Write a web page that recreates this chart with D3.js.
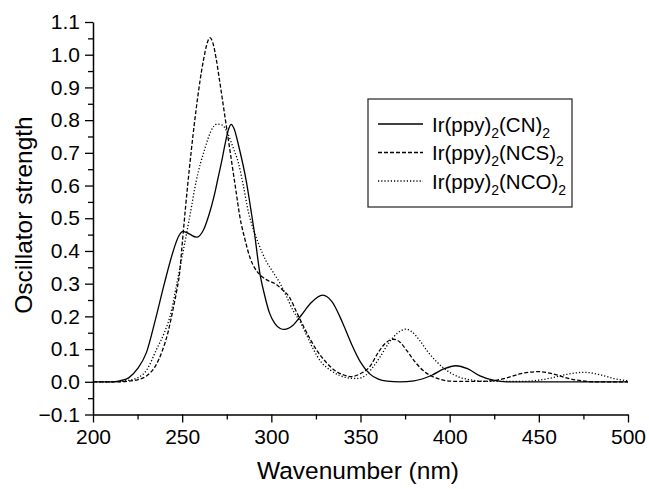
<!DOCTYPE html>
<html>
<head>
<meta charset="utf-8">
<script src="https://cdn.jsdelivr.net/npm/d3@7"></script>
<style>
  html, body { margin: 0; padding: 0; background: #fff; }
  svg { display: block; }
  text { font-family: Arial, "Liberation Sans", sans-serif; fill: #000; }
</style>
</head>
<body>
<svg id="chart" width="649" height="489"></svg>
<script>
// ---- data ----
const xTicks = [200, 250, 300, 350, 400, 450, 500];
const xMinorTicks = [225, 275, 325, 375, 425, 475];
const yTicks = [-0.1, 0.0, 0.1, 0.2, 0.3, 0.4, 0.5, 0.6, 0.7, 0.8, 0.9, 1.0, 1.1];
const yMinorTicks = [-0.05, 0.05, 0.15, 0.25, 0.35, 0.45, 0.55, 0.65, 0.75, 0.85, 0.95, 1.05];

const seriesNames = ["CN", "NCS", "NCO"];

const cnPoints = [[200,0],[210,0],[215,0.003],[220,0.012],[225,0.04],[230,0.09],[235,0.19],[240,0.30],[245,0.40],[248,0.445],[250.5,0.46],[254,0.452],[258,0.442],[262,0.465],[265,0.51],[268,0.57],[270,0.62],[272,0.67],[274,0.725],[276,0.772],[277.5,0.787],[279,0.775],[282,0.714],[286,0.612],[289,0.51],[290.3,0.464],[293.6,0.331],[296,0.27],[299,0.21],[302,0.178],[305,0.163],[307.3,0.16],[312,0.172],[317,0.205],[322,0.24],[328.8,0.265],[334,0.245],[340,0.18],[345,0.115],[350,0.06],[355,0.025],[360,0.008],[365,0.002],[372,0],[380,0.003],[390,0.02],[397,0.04],[403.5,0.049],[410,0.04],[417,0.018],[425,0.004],[432,0],[500,0]];

const ncsPoints = [[200,0],[215,0],[220,0.002],[225,0.006],[230,0.018],[235,0.048],[239,0.097],[242,0.15],[245,0.225],[247,0.28],[248.5,0.33],[250,0.42],[252,0.54],[254,0.65],[256,0.75],[258,0.84],[260,0.92],[262,0.985],[264,1.035],[265.5,1.052],[267,1.04],[269,0.99],[271,0.92],[274,0.81],[277,0.70],[280,0.59],[282.5,0.50],[285,0.44],[288,0.38],[291,0.345],[294,0.325],[298,0.31],[303,0.297],[306,0.282],[310,0.26],[314,0.215],[318,0.17],[322,0.128],[326,0.092],[331,0.058],[336,0.033],[341,0.02],[345,0.016],[350,0.025],[355,0.045],[360,0.09],[364,0.118],[368.4,0.13],[372,0.122],[376,0.095],[380,0.065],[385,0.035],[390,0.017],[395,0.007],[400,0.002],[407,0.001],[415,0.001],[425,0.004],[432,0.012],[440,0.025],[449.7,0.031],[458,0.024],[466,0.011],[474,0.003],[482,0],[500,0]];

const ncoPoints = [[200,0],[212,0],[218,0.003],[225,0.012],[230,0.035],[235.7,0.1],[240,0.15],[243.2,0.2],[247,0.3],[250.6,0.4],[254.4,0.51],[257.8,0.612],[262.8,0.714],[266,0.765],[269.5,0.788],[272.5,0.785],[275.5,0.76],[278.7,0.714],[281.5,0.67],[284.3,0.6],[287.1,0.52],[290,0.465],[293,0.42],[297,0.37],[301,0.335],[305,0.3],[308.6,0.26],[312,0.22],[316,0.185],[320,0.14],[323.5,0.1],[328,0.06],[333,0.036],[338,0.02],[343,0.012],[348,0.01],[353,0.02],[357,0.045],[361,0.076],[366,0.12],[371,0.15],[375.5,0.161],[379,0.152],[383,0.128],[388,0.09],[393,0.06],[398,0.036],[405,0.015],[413,0.005],[422,0.001],[440,0.001],[450,0.005],[458,0.013],[466,0.023],[475.5,0.029],[484,0.022],[492,0.01],[500,0.003]];

// ---- drawing ----
const svg = d3.select("#chart");
const x = d3.scaleLinear().domain([200, 500]).range([93, 628]);
const y = d3.scaleLinear().domain([-0.1, 1.1]).range([414.5, 22]);

const series = [
  { name: seriesNames[0], points: cnPoints, dash: null },
  { name: seriesNames[1], points: ncsPoints, dash: "4,2" },
  { name: seriesNames[2], points: ncoPoints, dash: "1.2,2" }
];

const line = d3.line().x(d => x(d[0])).y(d => y(d[1])).curve(d3.curveMonotoneX);

series.forEach(s => {
  svg.append("path")
    .datum(s.points)
    .attr("fill", "none")
    .attr("stroke", "#000")
    .attr("stroke-width", 1.3)
    .attr("stroke-dasharray", s.dash)
    .attr("d", line);
});

// axes
const axisFont = 21;
const gx = svg.append("g").attr("transform", `translate(0,${y(-0.1)})`)
  .call(d3.axisBottom(x).tickValues(xTicks).tickSize(8).tickSizeOuter(0).tickPadding(7).tickFormat(d3.format("d")));
gx.append("g").call(d3.axisBottom(x).tickValues(xMinorTicks).tickSize(5).tickFormat(""))
  .select(".domain").remove();

const gy = svg.append("g").attr("transform", `translate(${x(200)},0)`)
  .call(d3.axisLeft(y).tickValues(yTicks).tickSize(8).tickSizeOuter(0).tickPadding(5).tickFormat(d3.format(".1f")));
gy.append("g").call(d3.axisLeft(y).tickValues(yMinorTicks).tickSize(5).tickFormat(""))
  .select(".domain").remove();

svg.selectAll(".domain").attr("stroke", "#000").attr("stroke-width", 1.5);
svg.selectAll(".tick line").attr("stroke", "#000").attr("stroke-width", 1.3);
svg.selectAll(".tick text").attr("font-size", axisFont)
  .attr("font-family", "Arial, 'Liberation Sans', sans-serif").attr("fill", "#000");

// axis titles
svg.append("text")
  .attr("x", 358).attr("y", 479)
  .attr("text-anchor", "middle")
  .attr("font-size", 24.5)
  .text("Wavenumber (nm)");

svg.append("text")
  .attr("transform", "translate(32,215) rotate(-90)")
  .attr("text-anchor", "middle")
  .attr("font-size", 24.5)
  .text("Oscillator strength");

// legend
const legend = svg.append("g");
const lgTop = 99, lgLeft = 368, lgW = 204, lgH = 108;
legend.append("rect")
  .attr("x", lgLeft).attr("y", lgTop).attr("width", lgW).attr("height", lgH)
  .attr("fill", "#fff").attr("stroke", "#333").attr("stroke-width", 1.3);

series.forEach((s, i) => {
  const cy = 124 + i * 28.5;
  legend.append("line")
    .attr("x1", 378).attr("x2", 423).attr("y1", cy).attr("y2", cy)
    .attr("stroke", "#000").attr("stroke-width", 1.3)
    .attr("stroke-dasharray", s.dash);
  const t = legend.append("text")
    .attr("x", 432).attr("y", cy + 7.5)
    .attr("font-size", 20.5);
  t.append("tspan").text("Ir(ppy)");
  t.append("tspan").attr("font-size", 14).attr("dy", 6).text("2");
  t.append("tspan").attr("dy", -6).text("(" + s.name + ")");
  t.append("tspan").attr("font-size", 14).attr("dy", 6).text("2");
});
</script>
</body>
</html>
